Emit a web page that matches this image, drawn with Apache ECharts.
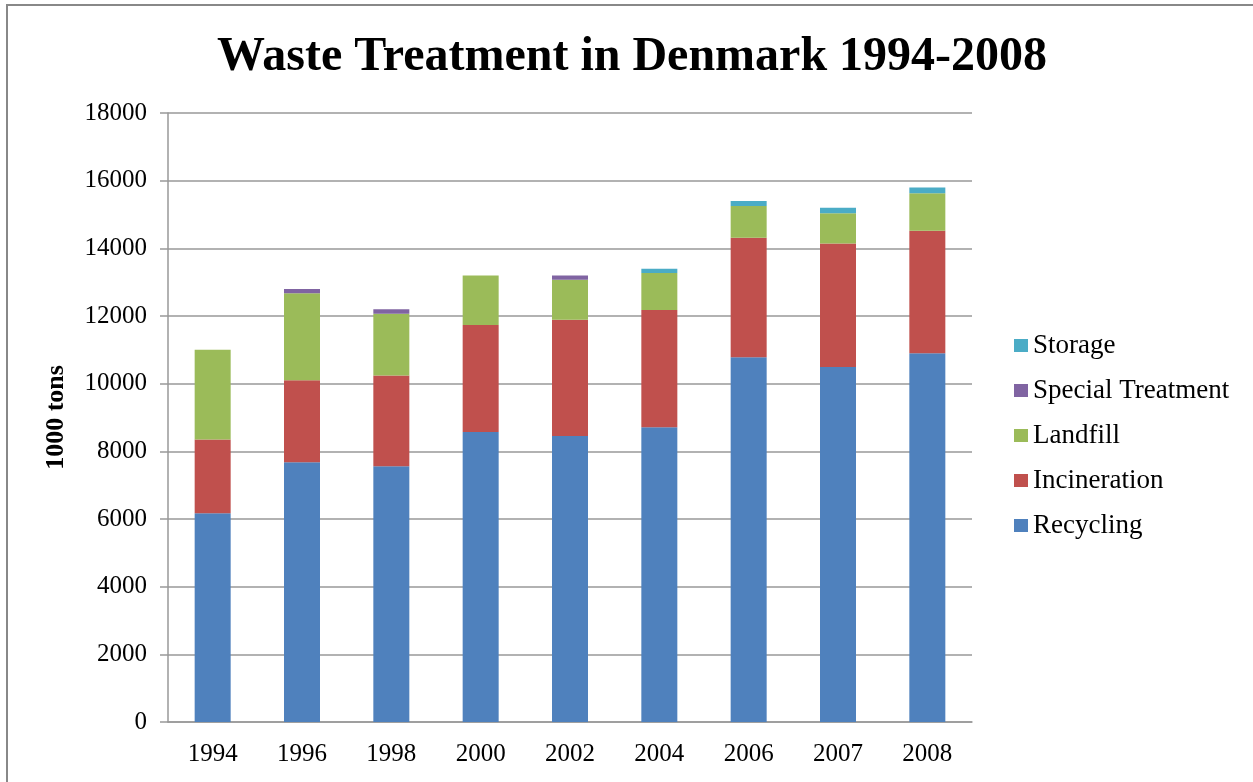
<!DOCTYPE html>
<html>
<head>
<meta charset="utf-8">
<script src="https://cdn.jsdelivr.net/npm/echarts@6/dist/echarts.min.js"></script>
<style>
  html, body { margin: 0; padding: 0; background: #fff; }
  #chart { width: 1253px; height: 782px; }
</style>
</head>
<body>
<div id="chart"></div>
<script>
// 年份（横坐标）
const years = ['1994', '1996', '1998', '2000', '2002', '2004', '2006', '2007', '2008'];
// 各处理方式，单位 1000 tons
const recycling = [6170, 7680, 7560, 8570, 8450, 8710, 10780, 10490, 10900];
const incineration = [2180, 2420, 2680, 3165, 3440, 3470, 3530, 3650, 3620];
const landfill = [2650, 2570, 1830, 1465, 1180, 1090, 940, 900, 1110];
const specialTreatment = [0, 130, 130, 0, 130, 0, 0, 0, 0];
const storage = [0, 0, 0, 0, 0, 130, 150, 160, 170];
const yTicks = [0, 2000, 4000, 6000, 8000, 10000, 12000, 14000, 16000, 18000];

const serif = "'Liberation Serif', 'Times New Roman', serif";
const chart = echarts.init(document.getElementById('chart'));

function bar(name, data, color) {
  return {
    name,
    type: 'bar',
    stack: 'total',
    barWidth: 36,
    data,
    itemStyle: { color },
    emphasis: { disabled: true },
  };
}

const option = {
  animation: false,
  textStyle: { fontFamily: serif },
  graphic: [{
    type: 'rect',
    shape: { x: 7, y: 5, width: 1400, height: 900 },
    style: { fill: 'none', stroke: '#888', lineWidth: 2 },
    silent: true,
  }],
  title: {
    text: 'Waste Treatment in Denmark 1994-2008',
    left: 627,
    textAlign: 'center',
    top: 29,
    textStyle: { fontFamily: serif, fontSize: 48, fontWeight: 'bold', color: '#000' },
  },
  grid: { left: 168, right: 281, top: 113, bottom: 60 },
  legend: {
    orient: 'vertical',
    left: 1014,
    top: 332,
    padding: 0,
    itemWidth: 14,
    itemHeight: 13,
    itemGap: 18,
    icon: 'rect',
    data: ['Storage', 'Special Treatment', 'Landfill', 'Incineration', 'Recycling'],
    textStyle: { fontFamily: serif, fontSize: 27, lineHeight: 27, color: '#000' },
  },
  xAxis: {
    type: 'category',
    data: years,
    axisLine: { lineStyle: { color: '#999', width: 1.5 } },
    axisTick: { length: 8, lineStyle: { color: '#999', width: 1.5 } },
    axisLabel: { fontFamily: serif, fontSize: 25, color: '#000', margin: 20 },
  },
  yAxis: {
    type: 'value',
    min: yTicks[0],
    max: yTicks[yTicks.length - 1],
    interval: 2000,
    name: '1000 tons',
    nameLocation: 'middle',
    nameGap: 99,
    nameTextStyle: { fontFamily: serif, fontSize: 26, fontWeight: 'bold', color: '#000' },
    axisLine: { show: true, lineStyle: { color: '#999', width: 1.5 } },
    axisTick: { show: true, length: 8, lineStyle: { color: '#999', width: 1.5 } },
    axisLabel: {
      fontFamily: serif,
      fontSize: 25,
      color: '#000',
      margin: 21,
      formatter: (v) => String(v),
    },
    splitLine: { lineStyle: { color: '#999', width: 1.5 } },
  },
  series: [
    bar('Recycling', recycling, '#4F81BD'),
    bar('Incineration', incineration, '#C0504D'),
    bar('Landfill', landfill, '#9BBB59'),
    bar('Special Treatment', specialTreatment, '#8064A2'),
    bar('Storage', storage, '#4BACC6'),
  ],
};

chart.setOption(option);
</script>
</body>
</html>
